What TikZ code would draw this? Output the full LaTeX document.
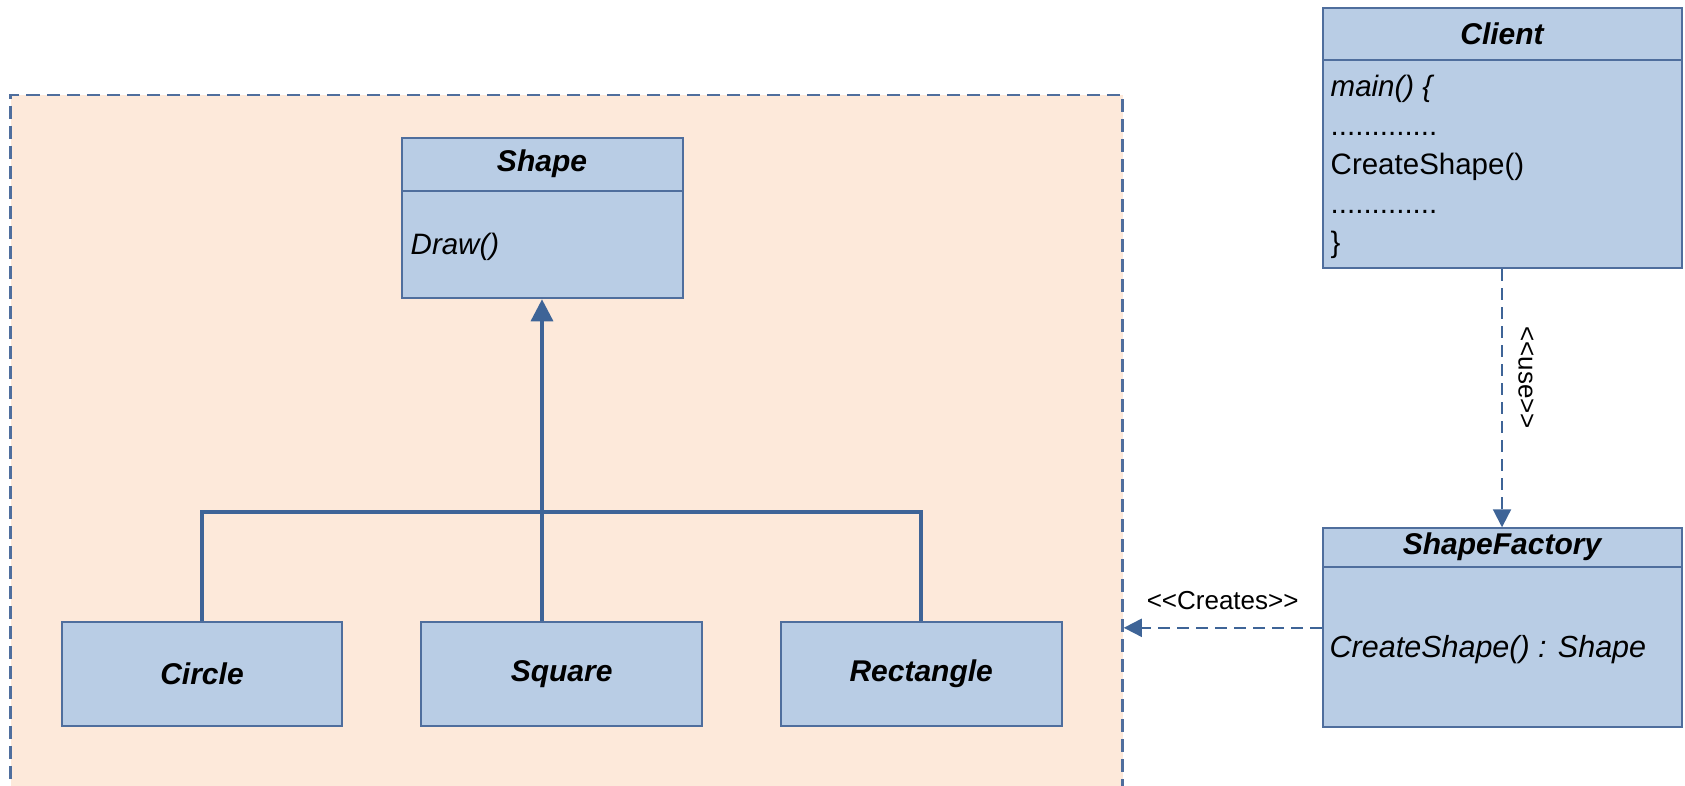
\documentclass[tikz,border=0pt]{standalone}
\usepackage{fontspec}
\setmainfont{Liberation Sans}
\usetikzlibrary{arrows.meta,positioning,calc}
\definecolor{boxfill}{HTML}{B9CDE5}
\definecolor{boxline}{HTML}{4F6E9D}
\definecolor{linkline}{HTML}{3E6497}
\definecolor{pkgfill}{HTML}{FDE9DA}
\newcommand\stereo[1]{<\kern0pt<#1>\kern0pt>}
\tikzset{
  cls/.style={draw=boxline, fill=boxfill, line width=2pt, inner sep=0pt},
  head/.style={inner sep=0pt, font=\fontsize{30}{36}\selectfont\bfseries\itshape},
  member/.style={inner sep=0pt, align=left, font=\fontsize{29.5}{39}\selectfont},
  divider/.style={draw=boxline, line width=2pt},
  group/.style={draw=boxline, fill=pkgfill, dash pattern=on 13pt off 7pt, line width=2.5pt},
  inherit/.style={draw=linkline, line width=3.5pt},
  dep/.style={draw=linkline, line width=2pt, dash pattern=on 12pt off 7pt, -{Triangle[width=18pt,length=18pt]}},
  tag/.style={font=\fontsize{26}{30}\selectfont, inner sep=2pt},
}

\begin{document}
\begin{tikzpicture}[x=1pt, y=-1pt]
  \clip (0,0) rectangle (1685,786);

  % Package area
  \node[group, minimum width=1112pt, minimum height=705pt] (family) at (566.5,447.5) {};

  % Classes
  \node[cls, minimum width=281pt, minimum height=160pt] (shape) at (542,218.3) {};
  \node[head, minimum width=281pt, minimum height=53.4pt, anchor=north] (shapehead) at (shape.north) {Shape};
  \draw[divider] (shapehead.south west) -- (shapehead.south east);
  \node[member, anchor=west] (shapeops) at ($(shape.west)+(10,28.4)$) {\itshape Draw()};

  \node[cls, head, minimum width=280.6pt, minimum height=103.4pt] (circle) at (202,674) {Circle};
  \node[cls, head, right=77pt of circle, minimum width=280.6pt, minimum height=103.4pt] (square) {Square};
  \node[cls, head, right=77pt of square, minimum width=280.6pt, minimum height=103.4pt] (rect) {Rectangle};

  \node[cls, minimum width=359pt, minimum height=260pt] (client) at (1502,138.3) {};
  \node[head, minimum width=359pt, minimum height=52.4pt, anchor=north] (clienthead) at (client.north) {Client};
  \draw[divider] (clienthead.south west) -- (clienthead.south east);
  \node[member, anchor=west] (clientops) at ($(client.west)+(9,29)$)
    {\itshape main() \{\\.............\\CreateShape()\\.............\\\}};

  \node[cls, below=258pt of client, minimum width=359pt, minimum height=199pt] (factory) {};
  \node[head, minimum width=359pt, minimum height=39pt, anchor=north] (factoryhead) at (factory.north) {ShapeFactory};
  \draw[divider] (factoryhead.south west) -- (factoryhead.south east);
  \node[member, anchor=west, font=\fontsize{30.5}{36}\selectfont] (factoryops) at ($(factory.west)+(8,22)$) {\itshape CreateShape() : Shape};

  % Generalization
  \coordinate (bus) at (0,512);
  \draw[inherit] (circle.north) -- (circle.north |- bus) -- (rect.north |- bus) -- (rect.north);
  \draw[inherit, -{Triangle[width=22pt,length=22pt]}] (square.north -| shape.south) -- (shape.south);

  % Dependencies
  \draw[dep] (client.south) -- (factory.north)
    node[tag, pos=0.42, xshift=24pt, rotate=-90] {\stereo{use}};
  \draw[dep] (factory.west) -- (factory.west -| family.east)
    node[tag, midway, above=15pt] {\stereo{Creates}};
\end{tikzpicture}
\end{document}
